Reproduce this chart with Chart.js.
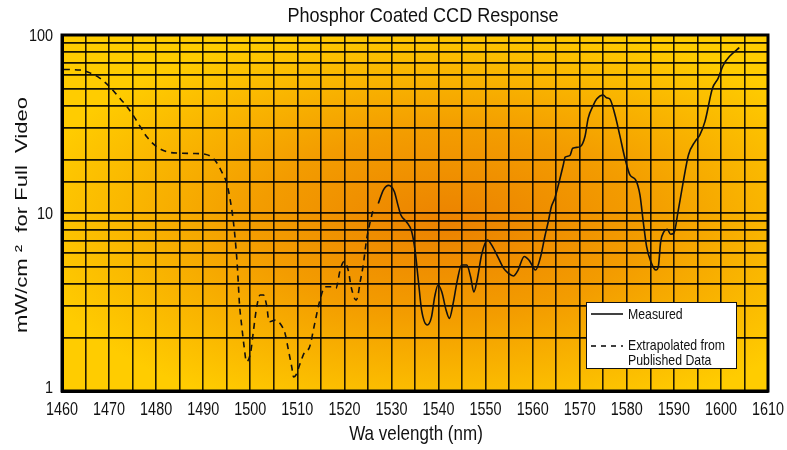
<!DOCTYPE html>
<html>
<head>
<meta charset="utf-8">
<script src="https://cdn.jsdelivr.net/npm/chart.js@4/dist/chart.umd.min.js"></script>
<style>
  html, body { margin: 0; padding: 0; background: #fff; }
  #wrap { width: 787px; height: 450px; }
</style>
</head>
<body>
<div id="wrap"><canvas id="chart" width="787" height="450"></canvas></div>
<script>
// wavelength (nm) / response (mW/cm2)
const extrapWl = [1460.4, 1463.8, 1465.6, 1468.1, 1470.2, 1472.0, 1473.7, 1475.3, 1476.7, 1478.1,
  1480.1, 1482.2, 1485.1, 1487.9, 1490.4, 1492.5, 1493.9, 1495.0, 1495.7, 1496.4,
  1497.0, 1497.3, 1497.7, 1498.2, 1498.7, 1499.2, 1500.1, 1500.6, 1501.4, 1502.1,
  1502.8, 1503.5, 1504.0, 1505.3, 1506.3, 1507.4, 1508.1, 1508.8, 1509.2, 1509.7,
  1510.6, 1511.6, 1512.5, 1513.7, 1514.8, 1515.9, 1517.3, 1518.2, 1519.1, 1519.9,
  1520.8, 1521.5, 1522.5, 1522.9, 1523.3, 1524.0, 1524.7, 1525.4, 1526.1];
const extrapVal = [64, 63.6, 61.7, 57.1, 50.9, 45, 39.9, 34.8, 30.3, 26.6,
  23.6, 22.1, 21.7, 21.6, 21.4, 19.8, 17.1, 14.7, 12, 9,
  6.2, 4.8, 3.1, 2.3, 1.77, 1.46, 1.66, 2.1, 3.0, 3.46,
  3.46, 3.0, 2.45, 2.5, 2.4, 2.1, 1.7, 1.37, 1.2, 1.23,
  1.43, 1.66, 1.74, 2.4, 3.24, 3.85, 3.85, 3.78, 4.78, 5.33,
  4.78, 3.78, 3.24, 3.46, 4.03, 5.1, 7.05, 8.75, 10.4];

const measWl = [1527.2, 1528.3, 1529.4, 1530.6, 1531.4, 1532.0, 1533.2, 1534.3, 1535.0, 1535.7,
  1536.4, 1537.6, 1538.5, 1539.2, 1539.9, 1540.7, 1541.6, 1542.3, 1543.1, 1544.0,
  1544.9, 1546.0, 1546.8, 1547.5, 1548.2, 1549.2, 1550.4, 1551.3, 1552.7, 1553.8,
  1554.8, 1555.9, 1556.9, 1558.2, 1559.3, 1560.6, 1561.7, 1562.6, 1563.3, 1564.0,
  1564.7, 1565.5, 1566.5, 1566.9, 1567.9, 1568.5, 1570.1, 1571.1, 1571.8, 1572.9,
  1573.6, 1575.0, 1575.7, 1576.4, 1577.5, 1578.5, 1579.6, 1580.7, 1581.9, 1582.8,
  1583.5, 1584.2, 1585.1, 1586.2, 1586.7, 1587.2, 1587.9, 1588.6, 1589.3, 1590.0,
  1590.9, 1592.0, 1593.1, 1594.5, 1595.5, 1596.6, 1598.2, 1599.4, 1600.5, 1601.9,
  1603.9];
const measVal = [11.3, 13.5, 14.3, 13.2, 11.0, 9.75, 8.9, 7.85, 6.2, 4.2,
  2.85, 2.35, 2.6, 3.4, 3.94, 3.6, 2.85, 2.56, 3.1, 4.2,
  5.1, 5.1, 4.4, 3.6, 4.2, 5.9, 7.05, 6.6, 5.6, 4.9,
  4.6, 4.43, 4.78, 5.7, 5.4, 4.78, 5.7, 7.4, 8.9, 10.9,
  12.1, 14.5, 18.6, 20.6, 21, 23.1, 23.6, 26.8, 34.1, 40.4,
  43.7, 46, 44.4, 43.7, 35.5, 27.4, 20.3, 16.3, 15.3, 12.6,
  8.9, 6.5, 5.33, 4.78, 5.0, 6.9, 7.85, 8.1, 7.6, 7.7,
  10.2, 15, 21.2, 25.2, 27.4, 32.6, 50.2, 57.1, 67.8, 76.2,
  84.9];

const xLabelStep = 10;
const yLabelValues = [1, 10, 100];

const titleText = 'Phosphor Coated CCD Response';
const xTitleText = 'Wa velength (nm)';
const yTitleText = 'mW/cm ²  for Full  Video';
const legendMeasured = 'Measured';
const legendExtrap = ['Extrapolated from', 'Published Data'];

const FONT = "'Liberation Sans', Arial, sans-serif";
const INK = '#111';

function toPoints(xs, ys) {
  return xs.map((x, i) => ({ x: x, y: ys[i] }));
}

// the reference lettering is narrow, so squeeze it horizontally
function narrowText(ctx, text, x, y, size, sx, align) {
  ctx.save();
  ctx.font = size + 'px ' + FONT;
  ctx.fillStyle = INK;
  ctx.textAlign = align || 'center';
  ctx.textBaseline = 'alphabetic';
  ctx.translate(x, y);
  ctx.scale(sx, 1);
  ctx.fillText(text, 0, 0);
  ctx.restore();
}

const backgroundPlugin = {
  id: 'orangeBackground',
  beforeDraw(chart) {
    const { ctx, chartArea: a } = chart;
    const cx = a.left + (a.right - a.left) * 0.55;
    const cy = a.top + (a.bottom - a.top) * 0.53;
    const rx = 430, ry = 205;
    ctx.save();
    ctx.translate(cx, cy);
    ctx.scale(rx, ry);
    const g = ctx.createRadialGradient(0, 0, 0, 0, 0, 1);
    g.addColorStop(0, '#ec8200');
    g.addColorStop(0.45, '#f39c00');
    g.addColorStop(1, '#ffcc00');
    ctx.fillStyle = g;
    ctx.fillRect((a.left - cx) / rx, (a.top - cy) / ry, (a.right - a.left) / rx, (a.bottom - a.top) / ry);
    ctx.restore();
  }
};

const textPlugin = {
  id: 'narrowLabels',
  afterDraw(chart) {
    const { ctx, chartArea: a, scales } = chart;

    // frame
    ctx.save();
    ctx.strokeStyle = '#000';
    ctx.lineWidth = 3;
    ctx.strokeRect(a.left, a.top, a.right - a.left, a.bottom - a.top);
    ctx.restore();

    // title
    narrowText(ctx, titleText, (a.left + a.right) / 2 + 8, 22, 21, 0.86);

    // x tick labels
    scales.x.ticks.forEach((t) => {
      if (t.value % xLabelStep !== 0) return;
      narrowText(ctx, String(t.value), scales.x.getPixelForValue(t.value), a.bottom + 24, 18, 0.8);
    });

    // y tick labels
    scales.y.ticks.forEach((t) => {
      if (!yLabelValues.includes(t.value)) return;
      const py = Math.min(scales.y.getPixelForValue(t.value) + 6, a.bottom + 2);
      narrowText(ctx, String(t.value), a.left - 9, py, 17, 0.85, 'right');
    });

    // axis titles
    narrowText(ctx, xTitleText, (a.left + a.right) / 2 + 1, 440, 21, 0.81);
    ctx.save();
    ctx.translate(27, (a.top + a.bottom) / 2 + 2);
    ctx.rotate(-Math.PI / 2);
    ctx.scale(1.05, 0.82);
    ctx.font = '21px ' + FONT;
    ctx.fillStyle = INK;
    ctx.textAlign = 'center';
    ctx.textBaseline = 'alphabetic';
    ctx.fillText(yTitleText, 0, 0);
    ctx.restore();

    // legend box
    const bx = a.right - 182, by = a.bottom - 89, bw = 150, bh = 66;
    ctx.save();
    ctx.fillStyle = '#fff';
    ctx.fillRect(bx, by, bw, bh);
    ctx.lineWidth = 1;
    ctx.strokeStyle = INK;
    ctx.strokeRect(bx + 0.5, by + 0.5, bw, bh);
    ctx.lineWidth = 1.6;
    ctx.beginPath();
    ctx.moveTo(bx + 5, by + 12);
    ctx.lineTo(bx + 37, by + 12);
    ctx.stroke();
    ctx.setLineDash([5, 5]);
    ctx.beginPath();
    ctx.moveTo(bx + 5, by + 44);
    ctx.lineTo(bx + 37, by + 44);
    ctx.stroke();
    ctx.restore();
    narrowText(ctx, legendMeasured, bx + 42, by + 17, 15, 0.82, 'left');
    narrowText(ctx, legendExtrap[0], bx + 42, by + 48, 15, 0.82, 'left');
    narrowText(ctx, legendExtrap[1], bx + 42, by + 63, 15, 0.82, 'left');
  }
};

new Chart(document.getElementById('chart'), {
  type: 'line',
  data: {
    datasets: [
      {
        label: 'Measured',
        data: toPoints(measWl, measVal),
        borderColor: INK,
        borderWidth: 1.6,
        pointRadius: 0,
        cubicInterpolationMode: 'monotone',
        fill: false
      },
      {
        label: 'Extrapolated from Published Data',
        data: toPoints(extrapWl, extrapVal),
        borderColor: INK,
        borderWidth: 1.6,
        borderDash: [6, 5],
        pointRadius: 0,
        cubicInterpolationMode: 'monotone',
        fill: false
      }
    ]
  },
  options: {
    responsive: false,
    animation: false,
    layout: { padding: { left: 0, right: 19, top: 35, bottom: 0 } },
    plugins: {
      legend: { display: false },
      tooltip: { enabled: false },
      title: { display: false }
    },
    scales: {
      x: {
        type: 'linear',
        min: 1460,
        max: 1610,
        afterFit(scale) {
          scale.height = 59;
          scale.paddingLeft = 0;
          scale.paddingRight = 0;
        },
        ticks: { stepSize: 5, autoSkip: false, display: false },
        grid: { color: 'rgba(0,0,0,0.88)', lineWidth: 1.6, drawTicks: false },
        border: { display: true, color: '#000', width: 3 }
      },
      y: {
        type: 'logarithmic',
        min: 1,
        max: 100,
        afterFit(scale) {
          scale.width = 62;
          scale.paddingTop = 0;
          scale.paddingBottom = 0;
        },
        ticks: { autoSkip: false, display: false },
        grid: { color: 'rgba(0,0,0,0.9)', lineWidth: 1.8, drawTicks: false },
        border: { display: true, color: '#000', width: 3 }
      }
    }
  },
  plugins: [backgroundPlugin, textPlugin]
});
</script>
</body>
</html>
